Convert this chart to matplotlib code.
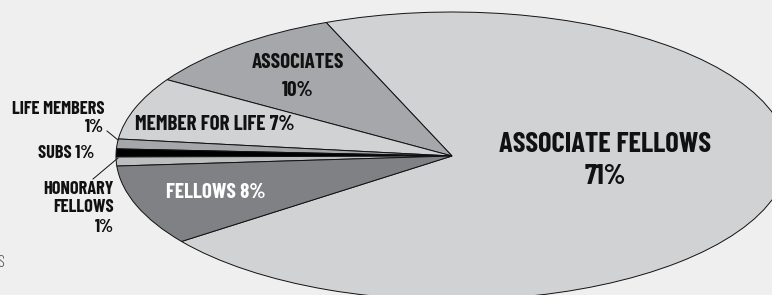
import matplotlib
matplotlib.use("Agg")
import matplotlib.pyplot as plt

# Data (shares) and labels
categories = ["ASSOCIATE FELLOWS", "ASSOCIATES", "MEMBER FOR LIFE", "LIFE MEMBERS",
              "SUBS", "HONORARY FELLOWS", "FELLOWS"]
shares = [71, 10, 7, 1.1, 0.9, 1.0, 9]
labels_pct = ["71%", "10%", "7%", "1%", "1%", "1%", "8%"]
colors = ["#d1d2d4", "#a6a7aa", "#d1d2d4", "#a6a7aa", "#000000", "#bdbec0", "#808184"]

W, H = 772, 295
BG = "#efefef"
FONT = ["Barlow Condensed", "DejaVu Sans"]

fig = plt.figure(figsize=(W / 100, H / 100), dpi=100, facecolor=BG)
ax = fig.add_axes([0, 0, 1, 1])
ax.set_facecolor(BG)

ax.pie(shares, colors=colors, startangle=216.4, counterclock=True,
       wedgeprops=dict(edgecolor="#111111", linewidth=0.7))
ax.set_aspect("auto")

# pie centre at pixel (452, 156 from top); radii 336 px (x) and 144 px (y)
cx, cy, rx, ry = 452, 156, 336, 144
ax.set_xlim(-cx / rx, (W - cx) / rx)
ax.set_ylim(-(H - cy) / ry, cy / ry)
ax.axis("off")


def px(x, y):
    return x / W, 1 - y / H


def t(x, y, s, size, ha="center", color="#111111", weight=700):
    fig.text(*px(x, y), s, ha=ha, va="center", fontsize=size, color=color,
             fontweight=weight, family=FONT)


BIG, MID, SMALL = 20.5, 15.2, 13.2
t(605, 145, categories[0], BIG)
t(605, 177, labels_pct[0], BIG)
t(298, 63, categories[1], MID)
t(298, 90, labels_pct[1], MID)
t(135, 125, f"{categories[2]} {labels_pct[2]}", MID, ha="left")
t(104, 110, categories[3], SMALL, ha="right")
t(104, 127, labels_pct[3], SMALL, ha="right")
t(94, 153, f"{categories[4]} {labels_pct[4]}", SMALL, ha="right")
t(114, 190, "HONORARY", SMALL, ha="right")
t(114, 208, "FELLOWS", SMALL, ha="right")
t(114, 227, labels_pct[5], SMALL, ha="right")
t(216, 193, f"{categories[6]} {labels_pct[6]}", MID, color="white")
t(-3, 263, "S", 12, ha="left", color="#555555", weight=300)

# leader lines
fig.add_artist(plt.Line2D([107 / W, 118 / W], [1 - 131 / H, 1 - 140 / H],
                          color="#111111", lw=0.7))
fig.add_artist(plt.Line2D([93 / W, 118 / W], [1 - 179 / H, 1 - 158 / H],
                          color="#111111", lw=0.7))

fig.savefig("out.png", dpi=100, facecolor=BG)
